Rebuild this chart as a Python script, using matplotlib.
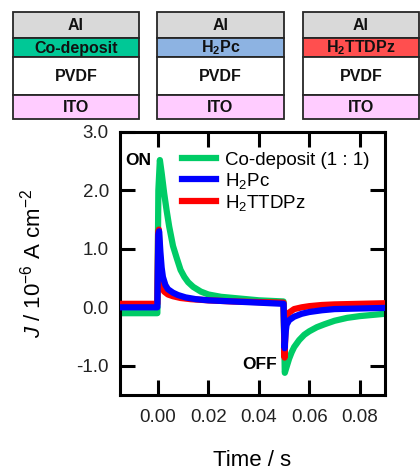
import matplotlib
matplotlib.use("Agg")
import matplotlib.pyplot as plt
from matplotlib.patches import Rectangle

plt.rcParams["font.family"] = ["Liberation Sans", "DejaVu Sans"]
plt.rcParams["mathtext.fontset"] = "custom"
plt.rcParams["mathtext.rm"] = "Liberation Sans"
plt.rcParams["mathtext.it"] = "Liberation Sans:italic"
plt.rcParams["mathtext.bf"] = "Liberation Sans:bold"
plt.rcParams["axes.unicode_minus"] = False

# ── Data ──────────────────────────────────────────────────────────────────────
t_green = [-0.015, -0.005, -0.0002, 0.0002, 0.0008, 0.0015, 0.0025, 0.0035, 0.0045,
           0.006, 0.0075, 0.009, 0.0105, 0.012, 0.014, 0.017, 0.020, 0.025, 0.030,
           0.035, 0.040, 0.045, 0.0498, 0.0503, 0.051, 0.052, 0.053, 0.054, 0.056,
           0.058, 0.060, 0.063, 0.066, 0.070, 0.075, 0.080, 0.085, 0.090]
j_green = [-0.10, -0.10, -0.10, 2.00, 2.52, 2.30, 1.95, 1.65, 1.38,
           1.05, 0.84, 0.64, 0.52, 0.43, 0.35, 0.27, 0.22, 0.18, 0.16,
           0.14, 0.12, 0.11, 0.10, -1.12, -1.02, -0.88, -0.77, -0.68, -0.56,
           -0.47, -0.41, -0.34, -0.29, -0.23, -0.18, -0.15, -0.13, -0.11]

t_blue = [-0.015, -0.005, -0.0002, 0.0002, 0.0005, 0.001, 0.0015, 0.002, 0.003,
          0.004, 0.006, 0.008, 0.011, 0.015, 0.020, 0.030, 0.040, 0.0498, 0.0502,
          0.0507, 0.051, 0.052, 0.054, 0.057, 0.060, 0.065, 0.070, 0.080, 0.090]
j_blue = [0.00, 0.00, 0.00, 1.25, 1.30, 0.95, 0.68, 0.52, 0.38,
          0.31, 0.25, 0.21, 0.17, 0.14, 0.12, 0.10, 0.08, 0.06, -0.70,
          -0.40, -0.30, -0.22, -0.16, -0.11, -0.08, -0.05, -0.03, -0.02, -0.01]

t_red = [-0.015, -0.005, -0.0002, 0.0001, 0.0004, 0.0008, 0.0012, 0.0018, 0.0025,
         0.004, 0.006, 0.009, 0.013, 0.020, 0.030, 0.040, 0.0498, 0.0502, 0.0506,
         0.051, 0.052, 0.054, 0.057, 0.060, 0.065, 0.070, 0.080, 0.090]
j_red = [0.06, 0.06, 0.06, 1.25, 1.33, 0.75, 0.45, 0.33, 0.27,
         0.22, 0.19, 0.16, 0.14, 0.12, 0.10, 0.09, 0.08, -0.86, -0.35,
         -0.18, -0.09, -0.03, 0.00, 0.02, 0.04, 0.05, 0.06, 0.07]

series_labels = ["Co-deposit (1 : 1)", r"H$_2$Pc", r"H$_2$TTDPz"]
series_colors = ["#00cc66", "#0000ff", "#ff0000"]

x_ticks = [0.00, 0.02, 0.04, 0.06, 0.08]
y_ticks = [-1.0, 0.0, 1.0, 2.0, 3.0]

# device stacks: the middle (active) layer differs per device
stack_mid_names = ["Co-deposit", r"H$_\mathbf{2}$Pc", r"H$_\mathbf{2}$TTDPz"]
stack_mid_colors = ["#00c896", "#8db3e2", "#ff4f4f"]

# ── Figure ────────────────────────────────────────────────────────────────────
W, H = 420, 469
fig = plt.figure(figsize=(W / 100, H / 100), dpi=100)

# device schematics drawn in pixel coordinates
sk = fig.add_axes([0, 0, 1, 1])
sk.set_xlim(0, W)
sk.set_ylim(H, 0)
sk.axis("off")

stack_x = [(13, 139), (157, 284), (303, 419)]
layer_y = [12.5, 38, 57, 95.5, 119.5]
for (x0, x1), mid_name, mid_col in zip(stack_x, stack_mid_names, stack_mid_colors):
    names = ["Al", mid_name, "PVDF", "ITO"]
    cols = ["#d9d9d9", mid_col, "#ffffff", "#ffccff"]
    for i, (nm, c) in enumerate(zip(names, cols)):
        ya, yb = layer_y[i], layer_y[i + 1]
        sk.add_patch(Rectangle((x0, ya), x1 - x0, yb - ya, facecolor=c,
                               edgecolor="#262626", linewidth=1.3))
        sk.text((x0 + x1) / 2, (ya + yb) / 2 + 0.5, nm, ha="center", va="center",
                fontsize=11.5, fontweight="bold", color="#111111")

# main plot
ax = fig.add_axes([120 / W, 1 - 395 / H, 265 / W, 263 / H])
ax.plot(t_green, j_green, color=series_colors[0], lw=4.5, label=series_labels[0],
        solid_joinstyle="round", zorder=2)
ax.plot(t_red, j_red, color=series_colors[2], lw=4.5, label=series_labels[2],
        solid_joinstyle="round", zorder=3)
ax.plot(t_blue, j_blue, color=series_colors[1], lw=4.5, label=series_labels[1],
        solid_joinstyle="round", zorder=4)

ax.set_xlim(-0.015, 0.09)
ax.set_ylim(-1.5, 3.0)
ax.set_xticks(x_ticks)
ax.set_xticklabels([f"{v:.2f}" for v in x_ticks])
ax.set_yticks(y_ticks)
ax.set_yticklabels([f"{v:.1f}" for v in y_ticks])
ax.tick_params(direction="in", length=11, width=2.2, labelsize=13.5,
               top=True, right=True, colors="black", labelcolor="#222222")
ax.tick_params(axis="x", pad=10)
ax.tick_params(axis="y", pad=8)
for sp in ax.spines.values():
    sp.set_linewidth(2.2)

ax.set_xlabel("Time / s", fontsize=16, labelpad=17)
ax.set_ylabel(r"$\it{J}$ / 10$^{-6}$ A cm$^{-2}$", fontsize=16, labelpad=22)

ax.text(-0.0128, 2.52, "ON", fontsize=12.5, fontweight="bold", ha="left", va="center")
ax.text(0.0472, -0.97, "OFF", fontsize=12.5, fontweight="bold", ha="right", va="center")

h, l = ax.get_legend_handles_labels()
order = [0, 2, 1]
ax.legend([h[i] for i in order], [l[i] for i in order], loc="upper left",
          bbox_to_anchor=(0.235, 0.925), frameon=False, fontsize=13.5,
          handlelength=1.8, handletextpad=0.5, labelspacing=0.1,
          borderpad=0, borderaxespad=0)

fig.savefig("out.png", dpi=100)
